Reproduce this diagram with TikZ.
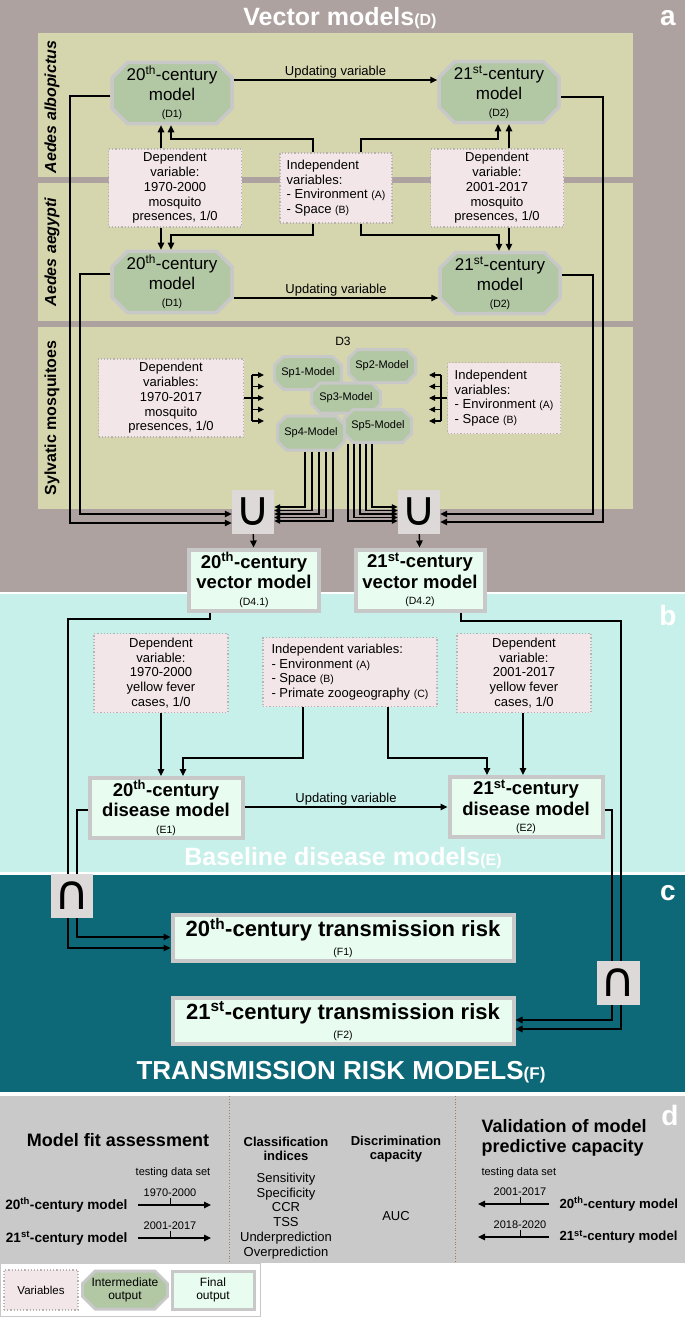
\documentclass[tikz,border=0pt]{standalone}
\usepackage{fontspec}
\setmainfont{Liberation Sans}
\newfontfamily\unionfont{DejaVu Sans}
\usepackage{tikz}
\usetikzlibrary{shapes.misc,arrows.meta}
\definecolor{panelA}{RGB}{173,162,160}
\definecolor{rowbg}{RGB}{213,214,174}
\definecolor{sage}{RGB}{178,199,163}
\definecolor{edgegray}{RGB}{200,200,200}
\definecolor{varpink}{RGB}{242,230,232}
\definecolor{vardot}{RGB}{185,178,178}
\definecolor{finalfill}{RGB}{232,252,240}
\definecolor{panelB}{RGB}{200,240,234}
\definecolor{panelC}{RGB}{13,104,120}
\definecolor{panelD}{RGB}{201,201,201}
\definecolor{setgray}{RGB}{222,217,217}
\definecolor{sepbrown}{RGB}{170,120,90}
\newcommand{\fs}[2]{\fontsize{#1}{#2}\selectfont}
\newcommand{\idx}[1]{{\normalfont\fs{10.5}{12}(#1)}}

\begin{document}
\begin{tikzpicture}[x=1pt,y=-1pt,
  arr/.style={-{Triangle[length=7pt,width=6.5pt]},line width=1.3pt},
  combarr/.style={-{Triangle[length=6pt,width=5.5pt]},line width=1.1pt},
  ln/.style={line width=1.3pt},
  varbox/.style={draw=vardot,dotted,line width=1.2pt,fill=varpink,inner sep=0pt,align=center,font=\fs{13}{14.7}},
  interbox/.style={chamfered rectangle,chamfered rectangle xsep=12pt,draw=edgegray,line width=3.5pt,fill=sage,inner sep=0pt,align=center,font=\fs{17}{20},minimum width=120pt,minimum height=61pt},
  spbox/.style={interbox,chamfered rectangle xsep=7pt,line width=3pt,font=\fs{11}{12},minimum width=67pt,minimum height=33pt},
  finalbox/.style={draw=edgegray,line width=4pt,fill=finalfill,inner sep=0pt,align=center,font=\bfseries\fs{18.5}{20.5}},
  setbox/.style={fill=setgray,inner sep=0pt,minimum width=42pt,minimum height=44pt,font=\unionfont\fs{48}{48}},
  paneltitle/.style={text=white,font=\bfseries\fs{25}{25}},
  panelletter/.style={text=white,font=\bfseries\fs{28}{28}},
  rowlabel/.style={rotate=90,font=\bfseries\fs{16}{16}},
  updlabel/.style={above,inner sep=1.5pt,font=\fs{13}{13}}]
\useasboundingbox (0,0) rectangle (685,1317);
\fill[panelA] (0,0) rectangle (685,592);
\fill[rowbg] (38,33) rectangle (633,177);
\fill[rowbg] (38,183) rectangle (633,321);
\fill[rowbg] (38,327) rectangle (633,509);
\fill[panelB] (0,594) rectangle (685,872);
\fill[panelC] (0,875) rectangle (685,1092);
\fill[panelD] (0,1096) rectangle (685,1263);
\draw[edgegray,fill=white] (0.5,1263.5) rectangle (260,1316.5);

\node[paneltitle] (titleA) at (340,18) {Vector models{\fs{16}{16}(D)}};
\node[panelletter] at (668,18) {a};
\node[rowlabel,font=\bfseries\itshape\fs{16}{16}] at (52,107) {Aedes albopictus};
\node[rowlabel,font=\bfseries\itshape\fs{16}{16}] at (52,252) {Aedes aegypti};
\node[rowlabel] at (52,418) {Sylvatic mosquitoes};

\node[interbox] (alb20) at (172,93) {20\textsuperscript{th}-century\\model\\[-3pt]\idx{D1}};
\node[interbox] (alb21) at (499,92) {21\textsuperscript{st}-century\\model\\[-3pt]\idx{D2}};
\node[interbox] (aeg20) at (172,282) {20\textsuperscript{th}-century\\model\\[-3pt]\idx{D1}};
\node[interbox] (aeg21) at (500,283) {21\textsuperscript{st}-century\\model\\[-3pt]\idx{D2}};
\node[varbox,minimum width=133pt,minimum height=78pt] (depA) at (175,188) {Dependent\\variable:\\1970-2000\\mosquito\\presences, 1/0};
\node[varbox,minimum width=112pt,minimum height=70pt,align=left] (indA) at (336,188) {Independent\\variables:\\- Environment \idx{A}\\- Space \idx{B}};
\node[varbox,minimum width=133pt,minimum height=78pt] (depB) at (497,188) {Dependent\\variable:\\2001-2017\\mosquito\\presences, 1/0};

\draw[arr] (alb20.east |- 0,80) -- node[updlabel] {Updating variable} (alb21.west |- 0,80);
\draw[arr] (aeg20.east |- 0,298) -- node[updlabel] {Updating variable} (aeg21.west |- 0,298);
\draw[arr] (depA.north -| 161,0) -- (alb20.south -| 161,0);
\draw[arr] (indA.north -| 313,0) |- (171,139) -- (alb20.south -| 171,0);
\draw[arr] (indA.north -| 361,0) |- (498,139) -- (alb21.south -| 498,0);
\draw[arr] (depB.north -| 509,0) -- (alb21.south -| 509,0);
\draw[arr] (depA.south -| 161,0) -- (aeg20.north -| 161,0);
\draw[arr] (indA.south -| 313,0) |- (171,235) -- (aeg20.north -| 171,0);
\draw[arr] (indA.south -| 361,0) |- (499,235) -- (aeg21.north -| 499,0);
\draw[arr] (depB.south -| 509,0) -- (aeg21.north -| 509,0);

\node[font=\fs{12}{12}] (d3) at (343,341) {D3};
\node[varbox,minimum width=145pt,minimum height=78pt] (depS) at (171,398) {Dependent\\variables:\\1970-2017\\mosquito\\presences, 1/0};
\node[varbox,minimum width=113pt,minimum height=71pt,align=left] (indS) at (504,398) {Independent\\variables:\\- Environment \idx{A}\\- Space \idx{B}};
\node[spbox] (sp1) at (308,373) {Sp1-Model};
\node[spbox] (sp2) at (382,366) {Sp2-Model};
\node[spbox,minimum width=69pt,minimum height=30pt] (sp3) at (346,398) {Sp3-Model};
\node[spbox,minimum height=34pt] (sp4) at (311,433) {Sp4-Model};
\node[spbox] (sp5) at (378,426) {Sp5-Model};
\draw[line width=1.1pt] (depS.east) -- (252,398);
\draw[line width=1.1pt] (252,375) -- (252,421);
\foreach \y in {375,386.5,398,409.5,421}
  \draw[combarr] (252,\y) -- (264,\y);
\draw[line width=1.1pt] (indS.west) -- (441,398);
\draw[line width=1.1pt] (441,375) -- (441,421);
\foreach \y in {375,386.5,398,409.5,421}
  \draw[combarr] (441,\y) -- (429,\y);

\node[setbox] (union20) at (253,512) {∪};
\node[setbox] (union21) at (419,512) {∪};
\foreach \x/\y in {305/507,312/510.5,319/514,326/517.5,333/521}
  \draw[combarr] (sp4.south -| \x,0) |- (union20.east |- 0,\y);
\foreach \x/\y in {348/521,354/517.5,360/514,366/510.5,372/507}
  \draw[combarr] (sp5.south -| \x,0) |- (union21.west |- 0,\y);
\draw[arr] (alb20.west |- 0,96) -| (70,523) -- (union20.west |- 0,523);
\draw[arr] (aeg20.west |- 0,274) -| (80,514) -- (union20.west |- 0,514);
\draw[arr] (alb21.east |- 0,97) -| (603,522) -- (union21.east |- 0,522);
\draw[arr] (aeg21.east |- 0,275) -| (593,514) -- (union21.east |- 0,514);

\node[finalbox,minimum width=130pt,minimum height=61pt] (vec20) at (254,580) {20\textsuperscript{th}-century\\vector model\\[-4pt]\idx{D4.1}};
\node[finalbox,minimum width=129pt,minimum height=61pt] (vec21) at (420,580) {21\textsuperscript{st}-century\\vector model\\[-4pt]\idx{D4.2}};
\draw[arr] (union20) -- (vec20);
\draw[arr] (union21) -- (vec21);

\node[panelletter] at (668,615) {b};
\node[varbox,minimum width=134pt,minimum height=79pt] (depE20) at (161,673) {Dependent\\variable:\\1970-2000\\yellow fever\\cases, 1/0};
\node[varbox,minimum width=174pt,minimum height=69pt,align=left] (indE) at (350,672) {Independent variables:\\- Environment \idx{A}\\- Space \idx{B}\\- Primate zoogeography \idx{C}};
\node[varbox,minimum width=134pt,minimum height=79pt] (depE21) at (524,673) {Dependent\\variable:\\2001-2017\\yellow fever\\cases, 1/0};
\node[finalbox,minimum width=153pt,minimum height=60pt] (dis20) at (166,808) {20\textsuperscript{th}-century\\disease model\\[-4pt]\idx{E1}};
\node[finalbox,minimum width=153pt,minimum height=60pt] (dis21) at (526,807) {21\textsuperscript{st}-century\\disease model\\[-4pt]\idx{E2}};
\draw[arr] (depE20.south -| 161,0) -- (dis20.north -| 161,0);
\draw[arr] (indE.south -| 303,0) |- (183,758) -- (dis20.north -| 183,0);
\draw[arr] (indE.south -| 388,0) |- (487,758) -- (dis21.north -| 487,0);
\draw[arr] (depE21.south -| 523,0) -- (dis21.north -| 523,0);
\draw[arr] (dis20.east |- 0,807) -- node[updlabel] {Updating variable} (dis21.west |- 0,807);
\node[paneltitle] at (343,858) {Baseline disease models{\fs{16}{16}(E)}};

\node[panelletter] at (668,893) {c};
\node[setbox] (inter20) at (72,896) {∩};
\node[setbox,minimum width=43pt] (inter21) at (618,983) {∩};
\node[finalbox,font=\bfseries\fs{22}{24},minimum width=341pt,minimum height=46pt] (risk20) at (343,938) {20\textsuperscript{th}-century transmission risk\\[-5pt]\idx{F1}};
\node[finalbox,font=\bfseries\fs{22}{24},minimum width=341pt,minimum height=46pt] (risk21) at (343,1021) {21\textsuperscript{st}-century transmission risk\\[-5pt]\idx{F2}};
\draw[ln] (vec20.south -| 210,0) |- (68,619) -- (inter20.north -| 68,0);
\draw[ln] (dis20.west |- 0,810) -| (inter20.north -| 77,0);
\draw[arr] (inter20.south -| 77,0) |- (risk20.west |- 0,937);
\draw[arr] (inter20.south -| 68,0) |- (risk20.west |- 0,948);
\draw[ln] (vec21.south -| 461,0) |- (621,621) -- (inter21.north -| 621,0);
\draw[ln] (dis21.east |- 0,810) -| (inter21.north -| 612,0);
\draw[arr] (inter21.south -| 612,0) |- (risk21.east |- 0,1020);
\draw[arr] (inter21.south -| 621,0) |- (risk21.east |- 0,1029);
\node[paneltitle,font=\bfseries\fs{26}{26}] at (341,1072) {TRANSMISSION RISK MODELS{\fs{17}{17}(F)}};

\node[panelletter,text=white] at (670,1115) {d};
\draw[sepbrown,dotted,line width=0.8pt] (229,1096) -- (229,1263);
\draw[sepbrown,dotted,line width=0.8pt] (455,1096) -- (455,1263);
\node[font=\bfseries\fs{18}{20}] (fitTitle) at (118,1140) {Model fit assessment};
\node[font=\fs{11}{12}] at (173,1173) {testing data set};
\node[anchor=east,font=\bfseries\fs{13.6}{16}] (fit20) at (131,1205) {20\textsuperscript{th}-century model};
\node[anchor=east,font=\bfseries\fs{13.6}{16}] (fit21) at (131,1238) {21\textsuperscript{st}-century model};
\draw[arr,line width=1.2pt] ([xshift=7pt]fit20.east) -- ([xshift=80pt]fit20.east);
\draw[line width=0.8pt] ([xshift=39pt]fit20.east) -- ++(0,-7) node[above,inner sep=1pt,font=\fs{11}{12}] {1970-2000};
\draw[arr,line width=1.2pt] ([xshift=7pt]fit21.east) -- ([xshift=80pt]fit21.east);
\draw[line width=0.8pt] ([xshift=39pt]fit21.east) -- ++(0,-7) node[above,inner sep=1pt,font=\fs{11}{12}] {2001-2017};
\node[font=\bfseries\fs{13}{13.5},align=center] (clsTitle) at (286,1149) {Classification\\indices};
\node[font=\bfseries\fs{13}{13.5},align=center] (disTitle) at (396,1149) {Discrimination\\capacity};
\node[font=\fs{13}{14.8},align=center] (clsList) at (286,1216) {Sensitivity\\Specificity\\CCR\\TSS\\Underprediction\\Overprediction};
\node[font=\fs{13}{14.8}] (auc) at (396,1216) {AUC};
\node[anchor=west,font=\bfseries\fs{18}{20},align=left] (valTitle) at (478,1138) {Validation of model\\predictive capacity};
\node[anchor=west,font=\fs{11}{12}] at (478,1173) {testing data set};
\node[anchor=west,font=\bfseries\fs{13.2}{16}] (val20) at (556,1204) {20\textsuperscript{th}-century model};
\node[anchor=west,font=\bfseries\fs{13.2}{16}] (val21) at (556,1237) {21\textsuperscript{st}-century model};
\draw[arr,line width=1.2pt] ([xshift=-7pt]val20.west) -- ([xshift=-78pt]val20.west);
\draw[line width=0.8pt] ([xshift=-36pt]val20.west) -- ++(0,-7) node[above,inner sep=1pt,font=\fs{11}{12}] {2001-2017};
\draw[arr,line width=1.2pt] ([xshift=-7pt]val21.west) -- ([xshift=-78pt]val21.west);
\draw[line width=0.8pt] ([xshift=-36pt]val21.west) -- ++(0,-7) node[above,inner sep=1pt,font=\fs{11}{12}] {2018-2020};

\node[varbox,font=\fs{11.5}{13},minimum width=74pt,minimum height=40pt] (legVar) at (41,1290) {Variables};
\node[interbox,chamfered rectangle xsep=9pt,line width=3pt,font=\fs{12}{13.5},minimum width=81pt,minimum height=38pt] (legInt) at (125,1290) {Intermediate\\output};
\node[finalbox,line width=3pt,font=\fs{12}{13.5},minimum width=82pt,minimum height=38pt] (legFin) at (213,1290) {Final\\output};
\end{tikzpicture}
\end{document}
